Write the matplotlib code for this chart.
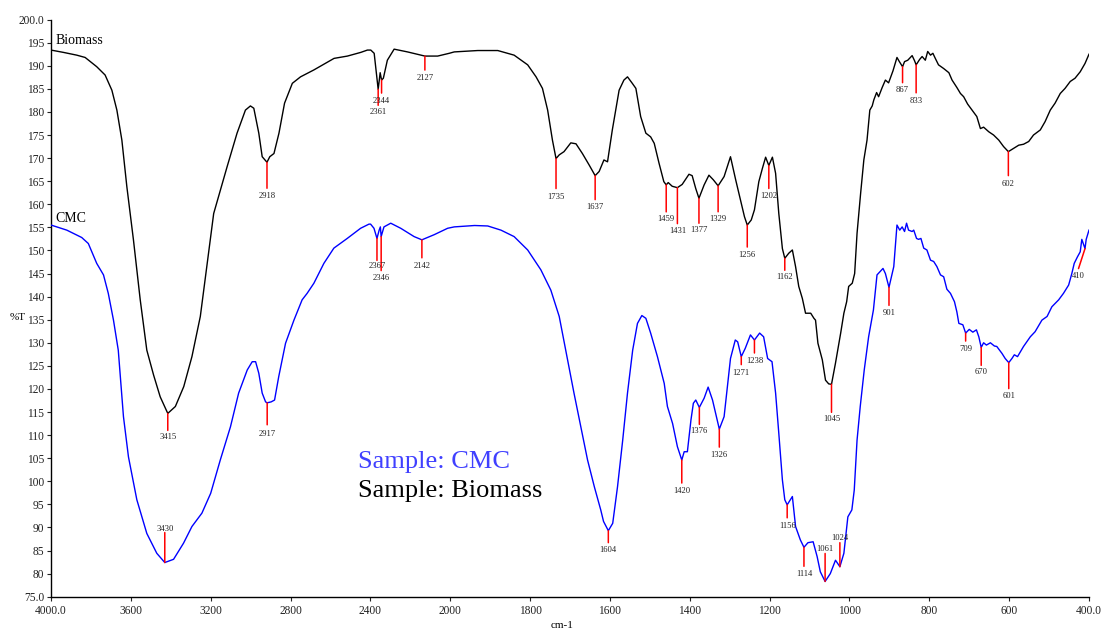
import numpy as np
import matplotlib
matplotlib.use("Agg")
import matplotlib.pyplot as plt

# ---------------- data ----------------
biomass_wn = [4000, 3938, 3871, 3829, 3771, 3729, 3695, 3670, 3645, 3620, 3587, 3553, 3520, 3486,
              3453, 3415, 3377, 3335, 3294, 3252, 3185, 3118, 3068, 3026, 3001, 2984, 2959, 2942,
              2918, 2904, 2883, 2858, 2830, 2791, 2750, 2683, 2582, 2515, 2448, 2415, 2398, 2381,
              2368, 2361, 2351, 2344, 2335, 2315, 2281, 2214, 2127, 2063, 2005, 1990, 1931, 1881,
              1840, 1806, 1785, 1769, 1756, 1744, 1735, 1727, 1715, 1698, 1685, 1669, 1652, 1637,
              1627, 1615, 1606, 1594, 1577, 1565, 1556, 1544, 1535, 1523, 1510, 1498, 1489, 1477,
              1465, 1459, 1454, 1444, 1431, 1419, 1402, 1394, 1385, 1377, 1364, 1352, 1341, 1329,
              1314, 1298, 1285, 1273, 1263, 1256, 1246, 1238, 1227, 1218, 1210, 1202, 1193, 1185,
              1177, 1168, 1162, 1152, 1143, 1135, 1127, 1118, 1110, 1097, 1089, 1085, 1079, 1068,
              1060, 1052, 1045, 1035, 1022, 1014, 1007, 1002, 993, 987, 981, 972, 964, 956, 949,
              943, 939, 932, 927, 918, 910, 902, 891, 881, 875, 867, 862, 854, 843, 837, 833, 824,
              818, 810, 804, 797, 791, 785, 777, 764, 751, 743, 731, 722, 714, 704, 693, 681, 672,
              664, 651, 639, 626, 614, 602, 589, 576, 564, 551, 539, 522, 510, 497, 485, 472, 460,
              447, 435, 422, 410, 400]
biomass_t = [193.4, 192.9, 192.3, 191.8, 189.8, 188.0, 184.7, 180.4, 173.9, 163.8, 152.3, 139.3, 128.4, 123.0,
             118.3, 114.7, 116.2, 120.5, 127.0, 135.7, 158.0, 168.1, 175.4, 180.4, 181.3, 180.8, 175.4, 170.3,
             169.1, 170.3, 171.0, 175.4, 181.9, 186.2, 187.6, 189.1, 191.6, 192.1, 192.9, 193.4, 193.4, 192.7,
             187.6, 184.9, 188.5, 186.9, 187.3, 191.2, 193.6, 193.0, 192.1, 192.1, 192.7, 193.0, 193.3, 193.3,
             192.3, 190.2, 187.6, 185.1, 180.4, 173.9, 169.9, 170.7, 171.4, 173.3, 173.1, 171.0, 168.5, 166.2,
             167.1, 169.6, 169.2, 176.1, 184.7, 186.9, 187.6, 186.2, 185.1, 179.0, 175.4, 174.6, 173.2, 168.9,
             164.9, 164.2, 164.7, 163.9, 163.6, 164.3, 166.5, 166.2, 163.4, 161.3, 164.2, 166.3, 165.3, 164.0,
             166.0, 170.3, 165.3, 160.9, 157.3, 155.5, 156.6, 158.8, 164.9, 167.8, 170.2, 168.4, 170.2, 166.7,
             158.0, 150.4, 148.3, 149.4, 150.1, 146.5, 142.2, 139.6, 136.4, 136.4, 135.3, 134.9, 129.9, 126.3,
             121.9, 121.1, 121.0, 125.6, 132.1, 136.4, 138.9, 142.2, 142.9, 145.0, 153.7, 162.4, 169.6, 173.9, 180.4,
             181.3, 182.6, 184.2, 183.3, 185.3, 186.9, 186.3, 188.9, 191.8, 190.9, 189.8, 190.9, 191.2, 192.2, 191.1, 190.2, 191.4,
             192.0, 191.2, 193.1, 192.3, 192.7, 191.6, 190.2, 189.4, 188.5, 186.9, 185.3, 184.0, 183.3, 181.7, 180.4, 179.0, 176.4,
             176.7, 175.7, 175.0, 173.9, 172.5, 171.4, 172.1, 172.8, 173.0, 173.6, 175.0, 176.1, 177.9, 180.4, 181.9, 184.0, 185.1,
             186.6, 187.3, 188.7, 190.5, 192.5]

cmc_wn = [4000, 3921, 3846, 3813, 3771, 3737, 3713, 3687, 3663, 3637, 3612, 3570, 3520, 3470, 3430,
          3386, 3336, 3294, 3244, 3200, 3152, 3101, 3060, 3017, 2992, 2975, 2959, 2942, 2925, 2917,
          2897, 2880, 2859, 2825, 2783, 2742, 2717, 2683, 2633, 2583, 2516, 2449, 2407, 2399, 2382,
          2367, 2356, 2350, 2346, 2332, 2298, 2248, 2181, 2142, 2081, 2013, 1990, 1939, 1906, 1873,
          1840, 1806, 1773, 1748, 1727, 1706, 1690, 1673, 1656, 1639, 1623, 1616, 1604, 1593, 1581,
          1568, 1556, 1543, 1531, 1520, 1510, 1498, 1481, 1464, 1456, 1443, 1431, 1420, 1414, 1406,
          1397, 1391, 1385, 1376, 1364, 1354, 1343, 1326, 1314, 1298, 1286, 1280, 1271, 1261, 1248,
          1238, 1225, 1215, 1205, 1194, 1185, 1177, 1168, 1162, 1156, 1143, 1135, 1123, 1114, 1104,
          1091, 1081, 1073, 1061, 1048, 1035, 1024, 1014, 1004, 994, 988, 981, 973, 963, 952, 940,
          931, 916, 910, 901, 889, 881, 874, 868, 862, 857, 852, 843, 839, 832, 827, 821, 814, 806,
          797, 789, 781, 772, 764, 756, 747, 737, 731, 726, 716, 709, 700, 691, 682, 676, 670, 664,
          657, 647, 637, 631, 618, 610, 601, 593, 587, 579, 564, 547, 535, 518, 505, 493, 476, 464,
          451, 443, 437, 429, 422, 418, 410, 407, 400]
cmc_t = [155.5, 154.4, 152.8, 151.5, 147.2, 144.7, 140.7, 134.9, 128.4, 114.0, 105.3, 96.0, 88.7, 84.4, 82.4,
         83.1, 86.6, 90.2, 93.1, 97.4, 104.6, 111.8, 119.1, 124.1, 125.9, 125.9, 123.4, 119.1, 117.2, 117.0,
         117.2, 117.6, 122.7, 129.9, 134.9, 139.3, 140.7, 142.9, 147.2, 150.5, 152.6, 154.8, 155.7, 155.7, 154.8,
         152.6, 154.4, 155.1, 153.0, 155.1, 155.9, 154.8, 153.0, 152.3, 153.4, 154.8, 155.1, 155.4, 155.3, 154.4,
         153.0, 150.1, 145.8, 141.4, 135.7, 126.3, 119.1, 111.8, 104.6, 98.8, 93.8, 91.3, 89.3, 90.9, 98.8,
         108.9, 119.1, 128.4, 134.2, 135.9, 135.3, 132.1, 127.0, 121.2, 116.2, 112.5, 107.5, 104.6, 106.4, 106.4,
         113.3, 116.9, 117.6, 116.0, 118.0, 120.4, 117.6, 111.3, 114.0, 126.6, 130.6, 130.2, 127.0, 128.8, 131.7,
         130.6, 132.1, 131.3, 126.6, 125.9, 119.1, 110.4, 100.3, 96.0, 94.9, 96.7, 90.2, 87.3, 85.7, 86.7,
         86.9, 83.7, 80.4, 78.3, 80.0, 82.9, 81.5, 84.4, 92.3, 93.8, 98.1, 108.9, 116.2, 124.1, 131.3, 137.1,
         144.7, 146.1, 145.0, 142.0, 146.5, 155.5, 154.4, 155.1, 154.1, 155.9, 154.4, 154.1, 154.4, 152.6, 152.4, 152.6, 150.5, 150.1,
         147.9, 147.6, 146.5, 144.7, 144.3, 141.6, 140.7, 138.9, 136.7, 134.2, 133.9, 132.1, 132.9, 132.3, 132.8, 131.3, 129.0, 130.0,
         129.5, 130.0, 129.3, 129.2, 127.7, 126.6, 125.7, 126.6, 127.4, 127.0, 129.2, 131.3, 132.4, 134.9, 135.7, 137.8, 139.3, 140.7,
         142.5, 145.0, 147.2, 148.6, 149.7, 152.4, 150.4, 152.4, 154.4]

# labelled peaks (cm-1)
biomass_peaks = [3415, 2918, 2361, 2344, 2127, 1735, 1637, 1459, 1431, 1377, 1329, 1256, 1202, 1162,
                 1045, 867, 833, 602]
cmc_peaks = [3430, 2917, 2367, 2346, 2142, 1604, 1420, 1376, 1326, 1271, 1238, 1156, 1114, 1061,
             1024, 901, 709, 670, 601, 410]

x_ticks = [4000, 3600, 3200, 2800, 2400, 2000, 1800, 1600, 1400, 1200, 1000, 800, 600, 400]
x_tick_labels = ["4000.0", "3600", "3200", "2800", "2400", "2000", "1800", "1600", "1400",
                 "1200", "1000", "800", "600", "400.0"]
y_ticks = list(range(75, 201, 5))
y_tick_labels = ["75.0"] + [str(v) for v in range(80, 200, 5)] + ["200.0"]

# label layout: (line length px, text offset px, horizontal shift px); negative = upward
biomass_layout = [(17, 24, 0), (26, 34, 0), (16, 23, 0), (13, 21, 0), (14, 22, 0), (30, 38, 0),
                  (24, 31, 0), (27, 34, 0), (36, 43, 0), (25, 32, 0), (26, 33, 0), (22, 30, 0),
                  (23, 31, 0), (12, 19, 0), (28, 35, 0), (16, 23, 0), (28, 36, 0), (24, 32, 0)]
cmc_layout = [(-30, -34, 0), (22, 31, 0), (22, 28, 0), (34, 41, 0), (18, 26, 0), (12, 19, 0),
              (23, 31, 0), (17, 24, 0), (18, 26, 0), (8, 16, 0), (13, 21, 0), (13, 21, 0),
              (19, 27, 0), (-28, -32, 0), (-24, -29, 0), (18, 26, 0), (8, 16, 0), (18, 25, 0),
              (26, 33, 0), (20, 27, -6.5)]


# ---------------- axis scale: 2x expansion below 2000 cm-1 ----------------
def fwd(w):
    w = np.asarray(w, dtype=float)
    return np.where(w > 2000, 2000 + (w - 2000) / 2.0, w)


def inv(p):
    p = np.asarray(p, dtype=float)
    return np.where(p > 2000, 2000 + (p - 2000) * 2.0, p)


plt.rcParams["font.family"] = ["Liberation Serif", "DejaVu Serif"]

fig = plt.figure(figsize=(11.01, 6.30), dpi=100)
ax = fig.add_axes([51 / 1101, 1 - 596.7 / 630, (1089 - 51) / 1101, (596.7 - 19.6) / 630])
ax.set_xscale("function", functions=(fwd, inv))
ax.set_xlim(4000, 400)
ax.set_ylim(75, 200)

ax.plot(biomass_wn, biomass_t, color="black", lw=1.0, zorder=3, solid_joinstyle="round")
ax.plot(cmc_wn, cmc_t, color="#0000ff", lw=1.0, zorder=3, solid_joinstyle="round")

PX = 0.72  # points per pixel at 100 dpi


def label_peaks(peaks, layout, wn, t):
    wn_r = np.asarray(wn[::-1], dtype=float)
    t_r = np.asarray(t[::-1], dtype=float)
    for pk, (ln, toff, dx) in zip(peaks, layout):
        yv = float(np.interp(pk, wn_r, t_r))
        ax.annotate("", xy=(pk, yv), xytext=(dx * PX, -ln * PX), textcoords="offset points",
                    arrowprops=dict(arrowstyle="-", color="red", lw=1.1, shrinkA=0, shrinkB=0),
                    zorder=4)
        ax.annotate(str(pk), xy=(pk, yv), xytext=(dx * PX, -toff * PX), textcoords="offset points",
                    ha="center", va="center", fontsize=6.2, color="#222222", zorder=5)


label_peaks(biomass_peaks, biomass_layout, biomass_wn, biomass_t)
label_peaks(cmc_peaks, cmc_layout, cmc_wn, cmc_t)

# axes styling
for side in ("top", "right"):
    ax.spines[side].set_visible(False)
ax.spines["left"].set_linewidth(1.0)
ax.spines["bottom"].set_linewidth(1.0)
ax.set_xticks(x_ticks)
ax.set_xticklabels(x_tick_labels)
ax.set_yticks(y_ticks)
ax.set_yticklabels(y_tick_labels)
ax.xaxis.set_minor_locator(matplotlib.ticker.NullLocator())
ax.tick_params(axis="both", direction="out", length=3, width=0.8, labelsize=8.3, colors="#222222")
ax.tick_params(axis="x", pad=3)
ax.tick_params(axis="y", pad=2)

# curve names and sample legend
fig.text(56 / 1101, 1 - 40 / 630, "Biomass", fontsize=10, ha="left", va="center")
fig.text(55.5 / 1101, 1 - 218 / 630, "CMC", fontsize=10, ha="left", va="center")
fig.text(358 / 1101, 1 - 468.3 / 630, "Sample: CMC", fontsize=19, color="#4040ff",
         ha="left", va="baseline")
fig.text(358 / 1101, 1 - 496.7 / 630, "Sample: Biomass", fontsize=19, color="black",
         ha="left", va="baseline")
fig.text(17.5 / 1101, 1 - 317.5 / 630, "%T", fontsize=8, ha="center", va="center")
fig.text(562 / 1101, 1 - 625 / 630, "cm-1", fontsize=8, ha="center", va="center")

fig.savefig("out.png", dpi=100)
